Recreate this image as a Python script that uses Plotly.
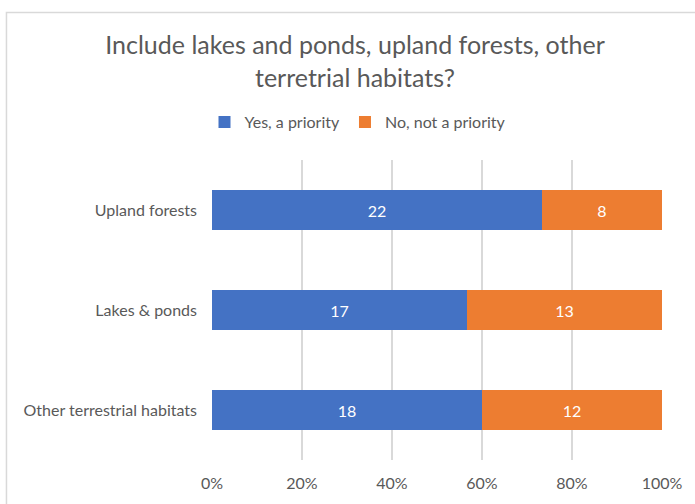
import plotly.graph_objects as go

categories = ["Other terrestrial habitats", "Lakes & ponds", "Upland forests"]
yes_values = [18, 17, 22]
no_values = [12, 13, 8]
series_names = ["Yes, a priority", "No, not a priority"]
tick_vals = [0, 20, 40, 60, 80, 100]
tick_text = ["0%", "20%", "40%", "60%", "80%", "100%"]

FONT = "Lato"
GRAY = "#595959"
FS = 16

fig = go.Figure()
fig.add_trace(go.Bar(
    y=categories, x=yes_values, name=series_names[0], orientation="h",
    marker=dict(color="#4472C4", line=dict(width=0)),
    text=[str(v) for v in yes_values], textposition="inside",
    insidetextanchor="middle", textfont=dict(color="white", size=FS, family=FONT),
))
fig.add_trace(go.Bar(
    y=categories, x=no_values, name=series_names[1], orientation="h",
    marker=dict(color="#ED7D31", line=dict(width=0)),
    text=[str(v) for v in no_values], textposition="inside",
    insidetextanchor="middle", textfont=dict(color="white", size=FS, family=FONT),
))

fig.update_layout(
    barmode="stack", barnorm="percent", bargap=0.6,
    width=695, height=504,
    margin=dict(l=212, r=32, t=160, b=39),
    paper_bgcolor="white", plot_bgcolor="white",
    font=dict(family=FONT, color=GRAY, size=FS),
    title=dict(
        text="Include lakes and ponds, upland forests, other<br>terretrial habitats?",
        x=355 / 695, xref="container", xanchor="center",
        y=1 - 54 / 504, yref="container", yanchor="middle",
        font=dict(size=25, family=FONT, color=GRAY),
    ),
    legend=dict(
        orientation="h", xref="container", yref="container",
        x=358 / 695, xanchor="center", y=1 - 122 / 504, yanchor="middle",
        font=dict(size=FS, family=FONT, color=GRAY),
        itemwidth=30, traceorder="normal",
    ),
    xaxis=dict(
        range=[0, 100], tickvals=tick_vals, ticktext=tick_text,
        showgrid=True, gridcolor="#d9d9d9", gridwidth=1.5,
        zeroline=False, showline=False, ticks="",
        tickfont=dict(size=FS, family=FONT, color=GRAY),
        ticklabelstandoff=12, fixedrange=True,
    ),
    yaxis=dict(
        showgrid=False, zeroline=False, showline=False, ticks="",
        tickfont=dict(size=FS, family=FONT, color=GRAY),
        ticklabelstandoff=14, fixedrange=True,
    ),
    shapes=[dict(
        type="rect", xref="paper", yref="paper",
        x0=(6 - 212) / 451, x1=2.0, y0=-1.0, y1=1 + (160 - 10) / 305,
        line=dict(color="#d9d9d9", width=1.5), fillcolor="rgba(0,0,0,0)", layer="below",
    )],
    showlegend=True,
)

fig.write_html("out.html")
